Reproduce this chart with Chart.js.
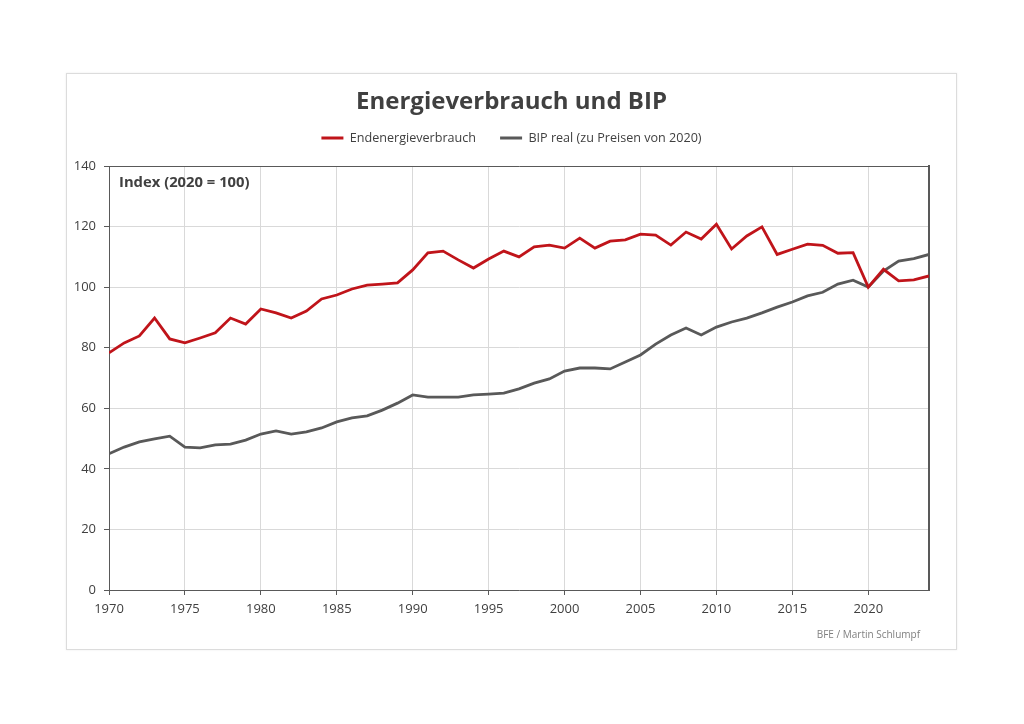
<!DOCTYPE html>
<html>
<head>
<meta charset="utf-8">
<script src="https://cdn.jsdelivr.net/npm/chart.js@4.4.1/dist/chart.umd.min.js"></script>
<style>
  body { margin: 0; background: #fff; }
  #rahmen {
    position: absolute; left: 66px; top: 73px; width: 889px; height: 575px;
    border: 1px solid #dcdcdc; box-shadow: 0 0 2px rgba(0,0,0,0.08);
  }
  canvas { display: block; }
</style>
</head>
<body>
<div id="rahmen"><canvas id="grafik" width="889" height="575"></canvas></div>
<script>
// Daten (Index 2020 = 100)
const jahre = [1970,1971,1972,1973,1974,1975,1976,1977,1978,1979,
  1980,1981,1982,1983,1984,1985,1986,1987,1988,1989,
  1990,1991,1992,1993,1994,1995,1996,1997,1998,1999,
  2000,2001,2002,2003,2004,2005,2006,2007,2008,2009,
  2010,2011,2012,2013,2014,2015,2016,2017,2018,2019,
  2020,2021,2022,2023,2024];
const endenergie = [78.3,81.6,83.9,89.8,82.9,81.6,83.2,84.9,89.8,87.8,
  92.8,91.5,89.8,92.1,96.1,97.4,99.4,100.7,101.0,101.4,
  105.7,111.3,111.9,109.0,106.3,109.3,111.9,110.0,113.3,113.9,
  112.9,116.2,112.9,115.2,115.6,117.5,117.2,113.9,118.2,115.9,
  120.8,112.6,116.9,119.9,110.8,112.5,114.2,113.8,111.2,111.4,
  100.0,105.9,102.1,102.4,103.7];
const bipReal = [45.0,47.2,48.9,49.9,50.8,47.2,46.9,47.9,48.2,49.5,
  51.5,52.5,51.5,52.2,53.5,55.5,56.8,57.5,59.4,61.7,
  64.4,63.7,63.7,63.7,64.4,64.7,65.0,66.4,68.3,69.7,
  72.3,73.3,73.3,73.0,75.3,77.6,81.2,84.2,86.5,84.2,
  86.8,88.5,89.8,91.5,93.4,95.1,97.1,98.3,101.0,102.3,
  100.0,105.3,108.6,109.4,110.8];
const yTicks = [0,20,40,60,80,100,120,140];

const schrift = "'Open Sans', 'Noto Sans', sans-serif";
const textFarbe = '#404040';

// Beschriftung "Index" und Quelle
const textPlugin = {
  id: 'textPlugin',
  afterDraw(chart) {
    const a = chart.chartArea;
    const ctx = chart.ctx;
    ctx.save();
    ctx.fillStyle = textFarbe;
    ctx.font = "bold 14.8px " + schrift;
    ctx.textBaseline = 'middle';
    ctx.fillText('Index (2020 = 100)', a.left + 10, a.top + 17);
    ctx.fillStyle = '#808080';
    ctx.font = "10px " + schrift;
    ctx.textAlign = 'right';
    ctx.fillText('BFE / Martin Schlumpf', 853, 561);
    ctx.restore();
  }
};

new Chart(document.getElementById('grafik'), {
  type: 'line',
  data: {
    datasets: [{
      label: 'Endenergieverbrauch',
      data: jahre.map((j, i) => ({ x: j, y: endenergie[i] })),
      borderColor: '#c0141a',
      backgroundColor: '#c0141a',
      borderWidth: 2.8,
      pointRadius: 0,
      tension: 0
    }, {
      label: 'BIP real (zu Preisen von 2020)',
      data: jahre.map((j, i) => ({ x: j, y: bipReal[i] })),
      borderColor: '#595959',
      backgroundColor: '#595959',
      borderWidth: 2.8,
      pointRadius: 0,
      tension: 0
    }]
  },
  options: {
    responsive: false,
    animation: false,
    layout: { padding: 0 },
    plugins: {
      title: {
        display: true,
        text: 'Energieverbrauch und BIP',
        color: textFarbe,
        font: { family: schrift, size: 24, weight: 'bold' },
        padding: { top: 13.6, bottom: -8.7 }
      },
      legend: {
        labels: {
          boxWidth: 22,
          boxHeight: 3,
          padding: 24,
          color: textFarbe,
          font: { family: schrift, size: 12.6 },
          generateLabels: chart => Chart.defaults.plugins.legend.labels.generateLabels(chart)
            .map(l => ({ ...l, lineWidth: 0 }))
        }
      },
      tooltip: { enabled: false }
    },
    scales: {
      x: {
        type: 'linear',
        min: 1970,
        max: 2024,
        afterFit: s => { s.height = 59; },
        ticks: {
          stepSize: 5,
          includeBounds: false,
          padding: 6,
          color: textFarbe,
          font: { family: schrift, size: 13 },
          callback: v => String(v),
          maxRotation: 0
        },
        grid: { color: '#d9d9d9', tickColor: '#595959', tickLength: 5 },
        border: { color: '#595959' }
      },
      // oberer Rand der Zeichenfläche
      oben: {
        axis: 'x',
        type: 'linear',
        position: 'top',
        min: 1970,
        max: 2024,
        afterFit: s => { s.height = 11.7; },
        ticks: { display: false },
        grid: { display: false },
        border: { color: '#595959', width: 1 }
      },
      y: {
        min: 0,
        max: 140,
        afterFit: s => { s.width = 42; },
        afterBuildTicks: s => { s.ticks = yTicks.map(v => ({ value: v })); },
        ticks: {
          padding: 8,
          color: textFarbe,
          font: { family: schrift, size: 13 }
        },
        grid: { color: '#d9d9d9', tickColor: '#595959', tickLength: 5 },
        border: { color: '#595959' }
      },
      // rechter Rand der Zeichenfläche
      rechts: {
        position: 'right',
        min: 0,
        max: 140,
        afterFit: s => { s.width = 27; },
        ticks: { display: false },
        grid: { display: false },
        border: { color: '#595959', width: 2 }
      }
    }
  },
  plugins: [textPlugin]
});
</script>
</body>
</html>
